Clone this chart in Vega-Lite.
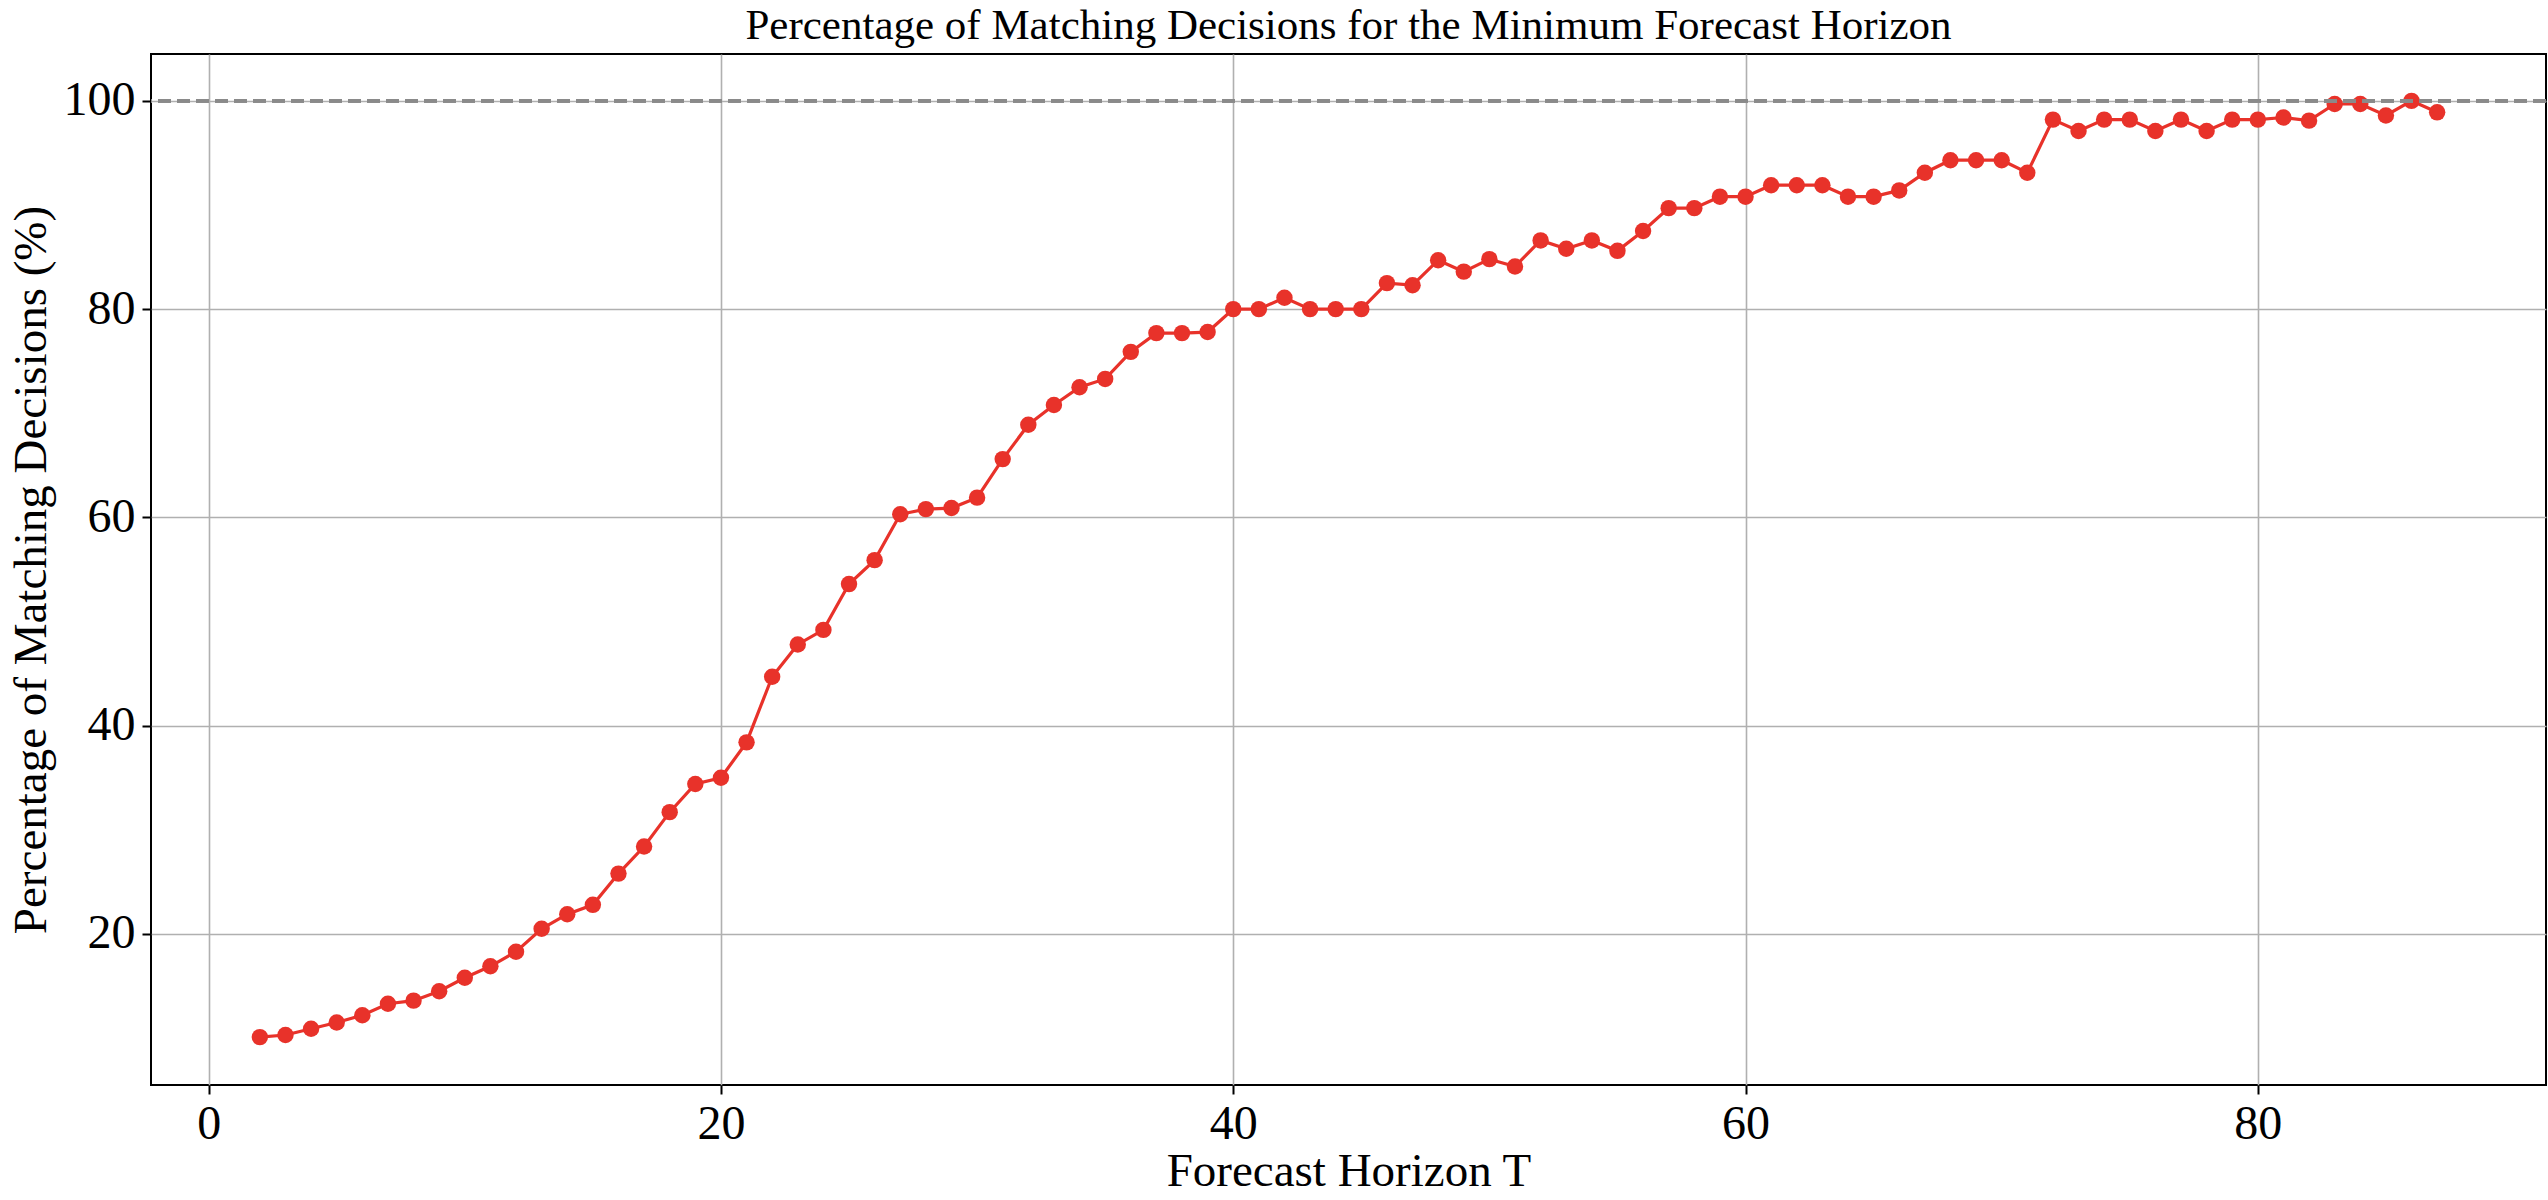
{
  "$schema": "https://vega.github.io/schema/vega-lite/v6.json",
  "autosize": {"type": "none"},
  "width": 2395,
  "height": 1031,
  "padding": {"left": 151, "top": 54, "right": 2, "bottom": 115},
  "background": "white",
  "title": {
    "text": "Percentage of Matching Decisions for the Minimum Forecast Horizon",
    "font": "Liberation Serif",
    "fontSize": 43,
    "fontWeight": "normal",
    "color": "black",
    "anchor": "middle",
    "offset": 6
  },
  "config": {
    "view": {"stroke": "black", "strokeWidth": 2},
    "axis": {
      "labelFont": "Liberation Serif",
      "labelFontSize": 48,
      "labelColor": "black",
      "titleFont": "Liberation Serif",
      "titleFontSize": 47,
      "titleFontWeight": "normal",
      "titleColor": "black",
      "domain": false,
      "grid": true,
      "tickColor": "black",
      "tickSize": 9,
      "tickWidth": 2,
      "gridColor": "#b0b0b0",
      "gridWidth": 1.6
    }
  },
  "data": {
    "values": [
      {"T": 2, "pct": 10.1}, {"T": 3, "pct": 10.3}, {"T": 4, "pct": 10.9}, {"T": 5, "pct": 11.5},
      {"T": 6, "pct": 12.2}, {"T": 7, "pct": 13.3}, {"T": 8, "pct": 13.6}, {"T": 9, "pct": 14.5},
      {"T": 10, "pct": 15.8}, {"T": 11, "pct": 16.9}, {"T": 12, "pct": 18.3}, {"T": 13, "pct": 20.5},
      {"T": 14, "pct": 21.9}, {"T": 15, "pct": 22.8}, {"T": 16, "pct": 25.8}, {"T": 17, "pct": 28.4},
      {"T": 18, "pct": 31.7}, {"T": 19, "pct": 34.4}, {"T": 20, "pct": 35.0}, {"T": 21, "pct": 38.4},
      {"T": 22, "pct": 44.7}, {"T": 23, "pct": 47.8}, {"T": 24, "pct": 49.2}, {"T": 25, "pct": 53.6},
      {"T": 26, "pct": 55.9}, {"T": 27, "pct": 60.3}, {"T": 28, "pct": 60.8}, {"T": 29, "pct": 60.9},
      {"T": 30, "pct": 61.9}, {"T": 31, "pct": 65.6}, {"T": 32, "pct": 68.9}, {"T": 33, "pct": 70.8},
      {"T": 34, "pct": 72.5}, {"T": 35, "pct": 73.3}, {"T": 36, "pct": 75.9}, {"T": 37, "pct": 77.7},
      {"T": 38, "pct": 77.7}, {"T": 39, "pct": 77.8}, {"T": 40, "pct": 80.0}, {"T": 41, "pct": 80.0},
      {"T": 42, "pct": 81.1}, {"T": 43, "pct": 80.0}, {"T": 44, "pct": 80.0}, {"T": 45, "pct": 80.0},
      {"T": 46, "pct": 82.5}, {"T": 47, "pct": 82.3}, {"T": 48, "pct": 84.7}, {"T": 49, "pct": 83.6},
      {"T": 50, "pct": 84.8}, {"T": 51, "pct": 84.1}, {"T": 52, "pct": 86.6}, {"T": 53, "pct": 85.8},
      {"T": 54, "pct": 86.6}, {"T": 55, "pct": 85.6}, {"T": 56, "pct": 87.5}, {"T": 57, "pct": 89.7},
      {"T": 58, "pct": 89.7}, {"T": 59, "pct": 90.8}, {"T": 60, "pct": 90.8}, {"T": 61, "pct": 91.9},
      {"T": 62, "pct": 91.9}, {"T": 63, "pct": 91.9}, {"T": 64, "pct": 90.8}, {"T": 65, "pct": 90.8},
      {"T": 66, "pct": 91.4}, {"T": 67, "pct": 93.1}, {"T": 68, "pct": 94.3}, {"T": 69, "pct": 94.3},
      {"T": 70, "pct": 94.3}, {"T": 71, "pct": 93.1}, {"T": 72, "pct": 98.2}, {"T": 73, "pct": 97.1},
      {"T": 74, "pct": 98.2}, {"T": 75, "pct": 98.2}, {"T": 76, "pct": 97.1}, {"T": 77, "pct": 98.2},
      {"T": 78, "pct": 97.1}, {"T": 79, "pct": 98.2}, {"T": 80, "pct": 98.2}, {"T": 81, "pct": 98.4},
      {"T": 82, "pct": 98.1}, {"T": 83, "pct": 99.7}, {"T": 84, "pct": 99.7}, {"T": 85, "pct": 98.6},
      {"T": 86, "pct": 100.0}, {"T": 87, "pct": 98.9}
    ]
  },
  "layer": [
    {
      "mark": {"type": "line", "color": "#e8322a", "strokeWidth": 3.2, "point": {"filled": true, "size": 270, "color": "#e8322a", "opacity": 1}},
      "encoding": {
        "x": {
          "field": "T", "type": "quantitative", "title": "Forecast Horizon T",
          "scale": {"domain": [-2.25, 91.25], "nice": false, "zero": false},
          "axis": {"values": [0, 20, 40, 60, 80], "grid": true, "labelPadding": 6, "titlePadding": 0, "labelFlush": false}
        },
        "y": {
          "field": "pct", "type": "quantitative", "title": "Percentage of Matching Decisions (%)",
          "scale": {"domain": [5.5, 104.5], "nice": false, "zero": false},
          "axis": {"values": [20, 40, 60, 80, 100], "grid": true, "labelPadding": 7, "titlePadding": 8, "labelFlush": false}
        }
      }
    },
    {
      "mark": {"type": "rule", "color": "#8a8a8a", "strokeWidth": 2.6, "strokeDash": [13, 6]},
      "encoding": {"y": {"datum": 100, "type": "quantitative"}}
    }
  ]
}
